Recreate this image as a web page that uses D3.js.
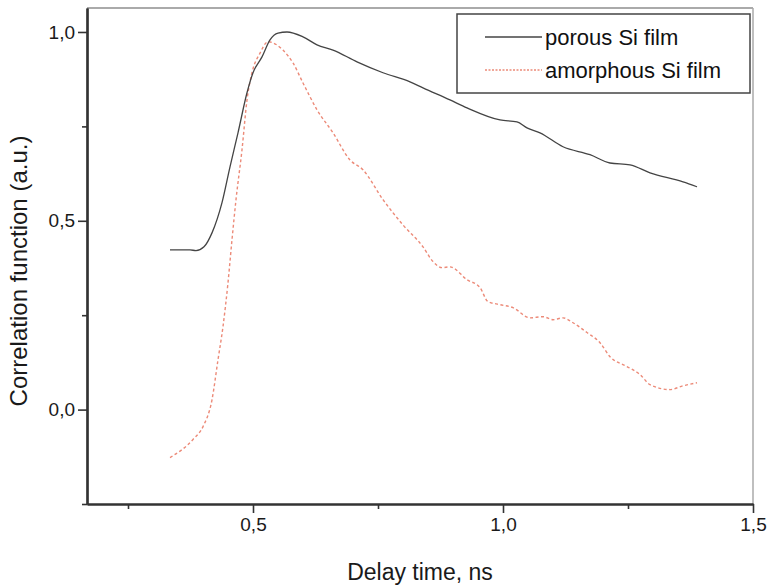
<!DOCTYPE html>
<html>
<head>
<meta charset="utf-8">
<script src="https://cdn.jsdelivr.net/npm/d3@7"></script>
<style>
  body { margin: 0; background: white; }
  svg { display: block; font-family: "Liberation Sans", Arial, sans-serif; }
</style>
</head>
<body>
<svg id="chart" width="770" height="585"></svg>
<script>
// porous Si film (solid)
const porousX = [0.334, 0.374, 0.386, 0.402, 0.418, 0.438, 0.454, 0.470, 0.488, 0.500, 0.518, 0.534, 0.550, 0.568,
    0.600, 0.628, 0.660, 0.708, 0.760, 0.814, 0.840, 0.894, 0.928, 0.994, 1.028, 1.048, 1.074, 1.120, 1.174,
    1.214, 1.254, 1.294, 1.360, 1.388];
const porousY = [0.423, 0.423, 0.421, 0.431, 0.468, 0.548, 0.643, 0.733, 0.839, 0.892, 0.934, 0.979, 0.997, 1.000,
    0.987, 0.966, 0.952, 0.921, 0.892, 0.868, 0.852, 0.820, 0.799, 0.767, 0.762, 0.746, 0.733, 0.696, 0.675,
    0.653, 0.648, 0.627, 0.603, 0.590];

// amorphous Si film (dashed)
const amorphX = [0.334, 0.380, 0.400, 0.418, 0.430, 0.440, 0.450, 0.458, 0.466, 0.478, 0.488, 0.498, 0.514, 0.530,
    0.560, 0.580, 0.600, 0.628, 0.660, 0.694, 0.720, 0.760, 0.800, 0.840, 0.860, 0.878, 0.894, 0.928, 0.954,
    0.970, 0.994, 1.020, 1.054, 1.080, 1.100, 1.120, 1.140, 1.168, 1.194, 1.214, 1.248, 1.274, 1.294, 1.334,
    1.360, 1.388];
const amorphY = [-0.127, -0.079, -0.045, 0.026, 0.132, 0.220, 0.336, 0.450, 0.556, 0.688, 0.820, 0.892, 0.944, 0.974,
    0.952, 0.918, 0.865, 0.794, 0.733, 0.661, 0.635, 0.556, 0.489, 0.431, 0.392, 0.376, 0.378, 0.344, 0.323,
    0.286, 0.278, 0.270, 0.243, 0.246, 0.238, 0.243, 0.230, 0.204, 0.177, 0.140, 0.114, 0.093, 0.066, 0.053,
    0.063, 0.071];

const xTicks = [0.5, 1.0, 1.5];
const xMinor = [0.25, 0.75, 1.25];
const yTicks = [0.0, 0.5, 1.0];
const yMinor = [-0.25, 0.25, 0.75];

const seriesNames = ["porous Si film", "amorphous Si film"];

const margin = { top: 8, right: 17, bottom: 81, left: 87 };
const width = 770, height = 585;
const innerW = width - margin.left - margin.right;
const innerH = height - margin.top - margin.bottom;

const svg = d3.select("#chart");
const g = svg.append("g").attr("transform", `translate(${margin.left},${margin.top})`);

const xScale = d3.scaleLinear().domain([0.168, 1.5]).range([0, innerW]);
const yScale = d3.scaleLinear().domain([-0.25, 1.0635]).range([innerH, 0]);

const fmt = d => d3.format(".1f")(d).replace(".", ",");

// top and right frame (light)
g.append("line").attr("x1", 0).attr("x2", innerW).attr("y1", 0).attr("y2", 0)
    .style("stroke", "#aaa").style("stroke-width", 2);
g.append("line").attr("x1", innerW).attr("x2", innerW).attr("y1", 0).attr("y2", innerH)
    .style("stroke", "#aaa").style("stroke-width", 1.5);

// minor ticks
const xMinorAxis = g.append("g").attr("transform", `translate(0,${innerH})`)
    .call(d3.axisBottom(xScale).tickValues(xMinor).tickSize(5).tickSizeOuter(0).tickFormat(""));
const yMinorAxis = g.append("g")
    .call(d3.axisLeft(yScale).tickValues(yMinor).tickSize(5).tickSizeOuter(0).tickFormat(""));

// major axes
const xAxisGroup = g.append("g").attr("transform", `translate(0,${innerH})`)
    .call(d3.axisBottom(xScale).tickValues(xTicks).tickSize(9).tickSizeOuter(0).tickPadding(5).tickFormat(fmt));
const yAxisGroup = g.append("g")
    .call(d3.axisLeft(yScale).tickValues(yTicks).tickSize(9).tickSizeOuter(0).tickPadding(3).tickFormat(fmt));

[xMinorAxis, yMinorAxis, xAxisGroup, yAxisGroup].forEach(ax => {
    ax.select(".domain").style("stroke", "#333").style("stroke-width", 2.2);
    ax.selectAll(".tick line").style("stroke", "#333").style("stroke-width", 1.6);
    ax.selectAll(".tick text").style("font-size", "19px").style("fill", "#1a1a1a")
        .style("font-family", "'Liberation Sans', Arial, sans-serif");
});

// axis labels
g.append("text")
    .attr("x", innerW / 2)
    .attr("y", innerH + 76)
    .attr("text-anchor", "middle")
    .style("font-size", "23px")
    .style("fill", "#1a1a1a")
    .text("Delay time, ns");

g.append("text")
    .attr("transform", "rotate(-90)")
    .attr("x", -263)
    .attr("y", -60)
    .attr("text-anchor", "middle")
    .style("font-size", "24px")
    .style("fill", "#1a1a1a")
    .text("Correlation function (a.u.)");

// curves
const line = d3.line()
    .x(d => xScale(d[0]))
    .y(d => yScale(d[1]))
    .curve(d3.curveMonotoneX);

const porous = porousX.map((x, i) => [x, porousY[i]]);
const amorph = amorphX.map((x, i) => [x, amorphY[i]]);

g.append("path").datum(amorph)
    .attr("d", line)
    .style("fill", "none")
    .style("stroke", "#ec8a78")
    .style("stroke-width", 1.4)
    .style("stroke-dasharray", "3,2.5");

g.append("path").datum(porous)
    .attr("d", line)
    .style("fill", "none")
    .style("stroke", "#444")
    .style("stroke-width", 1.3);

// legend
const legend = g.append("g").attr("transform", `translate(${457 - margin.left},${14 - margin.top})`);
legend.append("rect")
    .attr("width", 293).attr("height", 79)
    .style("fill", "white")
    .style("stroke", "#444")
    .style("stroke-width", 1.5);

const legendStyles = [
    { stroke: "#444", dash: null },
    { stroke: "#ec8a78", dash: "2,1.5" }
];
seriesNames.forEach((name, i) => {
    const y = 23 + i * 33;
    legend.append("line")
        .attr("x1", 28).attr("x2", 85).attr("y1", y).attr("y2", y)
        .style("stroke", legendStyles[i].stroke)
        .style("stroke-width", 1.3)
        .style("stroke-dasharray", legendStyles[i].dash);
    legend.append("text")
        .attr("x", 88).attr("y", y + 8)
        .style("font-size", "22px")
        .style("fill", "#111")
        .text(name);
});
</script>
</body>
</html>
